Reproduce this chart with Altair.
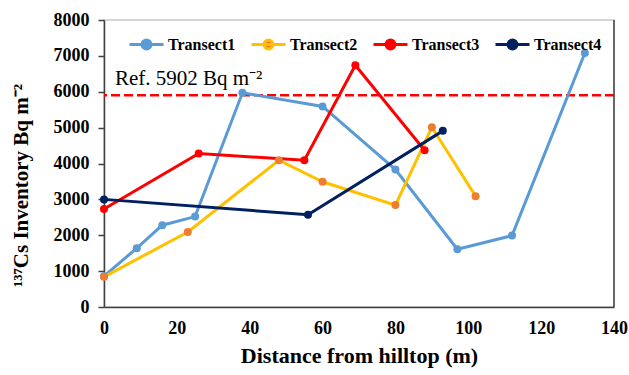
import altair as alt
import pandas as pd

# ---- data ----
t1_x = [0, 9, 16, 25, 38, 60, 80, 97, 112, 132]
t1_y = [860, 1640, 2280, 2520, 5970, 5590, 3830, 1610, 1990, 7080]
t2_x = [0, 23, 48, 60, 80, 90, 102]
t2_y = [840, 2090, 4090, 3490, 2840, 5010, 3090]
t3_x = [0, 26, 55, 69, 88]
t3_y = [2730, 4280, 4090, 6740, 4370]
t4_x = [0, 56, 93]
t4_y = [3000, 2570, 4910]

series_names = ["Transect1", "Transect2", "Transect3", "Transect4"]
line_colors = ["#5B9BD5", "#FFC000", "#FF0000", "#002060"]
marker_colors = ["#5B9BD5", "#ED7D31", "#FF0000", "#002060"]
ref_value = 5902
ref_label = "Ref. 5902 Bq m\u207b\u00b2"
x_ticks = [0, 20, 40, 60, 80, 100, 120, 140]
y_ticks = [0, 1000, 2000, 3000, 4000, 5000, 6000, 7000, 8000]

rows = []
for name, xs, ys in zip(series_names, [t1_x, t2_x, t3_x, t4_x], [t1_y, t2_y, t3_y, t4_y]):
    for i, (xv, yv) in enumerate(zip(xs, ys)):
        rows.append({"series": name, "dist": xv, "inv": yv, "ord": i})
df = pd.DataFrame(rows)

FONT = "Liberation Serif"
x_scale = alt.Scale(domain=[0, 140], nice=False)
y_scale = alt.Scale(domain=[0, 8000], nice=False)

x_axis = alt.Axis(values=x_ticks, title="Distance from hilltop (m)", format="d",
                  labelFlush=False, labelOverlap=False, labelFont=FONT,
                  tickSize=0, labelPadding=12, titlePadding=8)
y_axis = alt.Axis(values=y_ticks, title="\u00b9\u00b3\u2077Cs Inventory Bq m\u207b\u00b2",
                  format="d", labelFlush=False, labelOverlap=False, labelFont=FONT,
                  tickSize=6, labelPadding=9, titleX=-73, titleY=165,
                  titleBaseline="bottom")
x_enc = alt.X("dist:Q", scale=x_scale, axis=x_axis)
y_enc = alt.Y("inv:Q", scale=y_scale, axis=y_axis)

legend_path = "M-1,0L1,0M-0.26,0A0.26,0.26,0,1,0,0.26,0A0.26,0.26,0,1,0,-0.26,0Z"

lines = alt.Chart(df).mark_line(strokeWidth=3).encode(
    x=x_enc, y=y_enc,
    stroke=alt.Stroke("series:N", scale=alt.Scale(domain=series_names, range=line_colors),
                      legend=alt.Legend(title=None, orient="none", direction="horizontal",
                                        legendX=24, legendY=6, symbolType=legend_path,
                                        symbolSize=1156, symbolStrokeWidth=3,
                                        labelFont=FONT, labelFontSize=16, labelFontWeight="bold",
                                        labelColor="black", labelOffset=3, columnPadding=9)),
    order="ord:Q",
)
points = alt.Chart(df).mark_circle(size=64, opacity=1).encode(
    x=x_enc, y=y_enc,
    fill=alt.Fill("series:N", scale=alt.Scale(domain=series_names, range=marker_colors),
                  legend=alt.Legend(title=None)),
)

ref_df = pd.DataFrame({"inv": [ref_value]})
ref_rule = alt.Chart(ref_df).mark_rule(color="#FF0000", strokeWidth=2.5, strokeDash=[9, 4]).encode(
    y=y_enc)

txt_df = pd.DataFrame({"dist": [3], "inv": [6200], "t": [ref_label]})
ref_text = alt.Chart(txt_df).mark_text(font=FONT, fontSize=21, align="left",
                                       baseline="alphabetic", color="black").encode(
    x=x_enc, y=y_enc, text="t:N")

right_df = pd.DataFrame({"dist": [140]})
right_border = alt.Chart(right_df).mark_rule(color="#404040", strokeWidth=1.5).encode(x=x_enc)

chart = alt.layer(ref_rule, ref_text, lines, points, right_border).properties(
    width=510, height=287,
    autosize=alt.AutoSizeParams(type="none"),
    padding={"left": 104, "top": 20, "right": 15, "bottom": 68},
).configure(
    font=FONT
).configure_view(
    stroke="#C8C8C8", strokeWidth=1.5
).configure_axis(
    grid=False, domainColor="#404040", domainWidth=1.5, tickColor="#404040", tickWidth=1.5,
    labelFont=FONT, labelFontSize=18, labelFontWeight="bold", labelColor="black",
    titleFont=FONT, titleFontSize=21, titleFontWeight="bold", titleColor="black",
).configure_axisX(titleFontSize=22)

chart.save("out.html", embed_options={"renderer": "svg", "actions": False})
